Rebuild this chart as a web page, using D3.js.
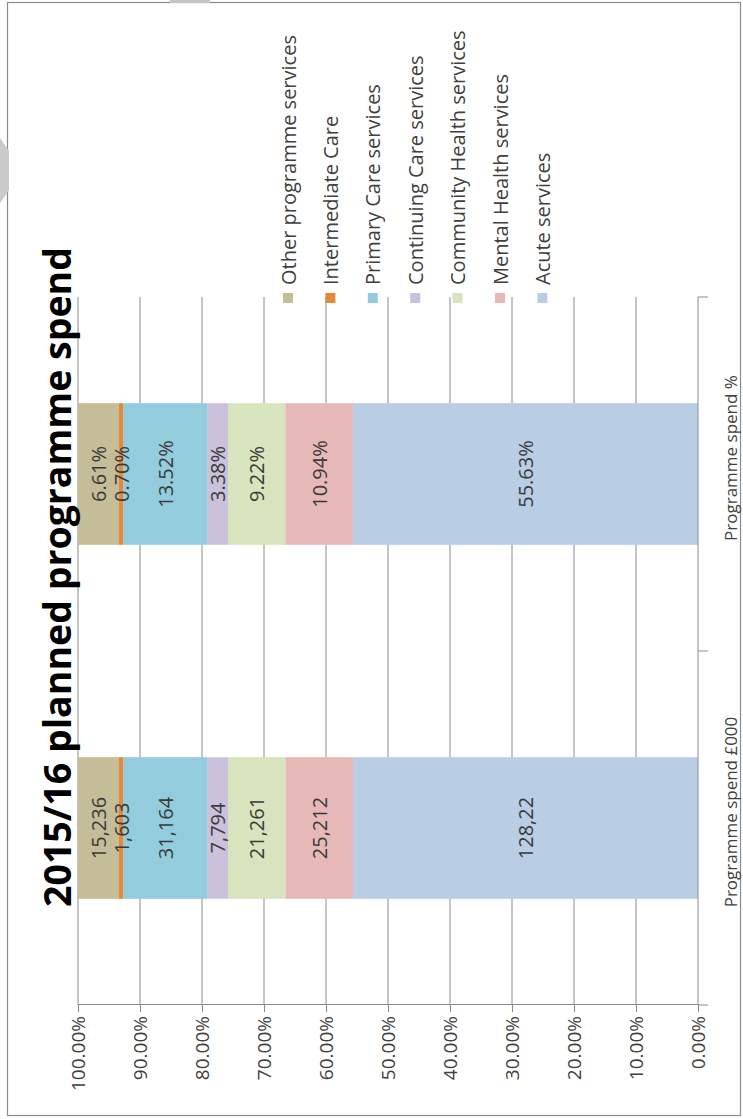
<!DOCTYPE html>
<html>
<head>
<meta charset="utf-8">
<script src="https://cdn.jsdelivr.net/npm/d3@7"></script>
<style>
  html, body { margin: 0; padding: 0; background: #ffffff; }
  svg { display: block; }
  text { font-family: "Open Sans", "Liberation Sans", sans-serif; }
</style>
</head>
<body>
<svg id="chart" width="743" height="1119"></svg>
<script>
// ---------------- data ----------------
const title = "2015/16 planned programme spend";
const categories = ["Programme spend £000", "Programme spend %"];
const seriesNames = [
  "Acute services",
  "Mental Health services",
  "Community Health services",
  "Continuing Care services",
  "Primary Care services",
  "Intermediate Care",
  "Other programme services"
];
const seriesColors = ["#b9cde5", "#e6b9b8", "#d7e4bd", "#ccc1da", "#93cddd", "#e0893f", "#c4bd97"];
const spend000 = [128222, 25212, 21261, 7794, 31164, 1603, 15236];
const spend000Labels = ["128,22", "25,212", "21,261", "7,794", "31,164", "1,603", "15,236"];
const spendPct = [55.63, 10.94, 9.22, 3.38, 13.52, 0.70, 6.61];
const valueTicks = [0, 0.1, 0.2, 0.3, 0.4, 0.5, 0.6, 0.7, 0.8, 0.9, 1.0];

// ---------------- setup ----------------
const W = 743, H = 1119;
const svg = d3.select("#chart");

// page frame + decorations (image coordinates)
svg.append("rect").attr("x", 7.5).attr("y", 2.5).attr("width", 733).attr("height", 1113)
  .attr("fill", "#ffffff").attr("stroke", "#8c8c8c").attr("stroke-width", 1.2);
svg.append("rect").attr("x", 170).attr("y", 0).attr("width", 40).attr("height", 3).attr("fill", "#c4c4c4");
svg.append("polygon").attr("points", "0,138 9,151 9,190 0,203").attr("fill", "#cacaca");

// chart is drawn in an upright frame and rotated -90deg
const g = svg.append("g").attr("transform", `translate(0,${H}) rotate(-90)`);

const rows = categories.map((c, ci) => {
  const r = { category: c };
  seriesNames.forEach((s, si) => { r[s] = ci === 0 ? spend000[si] : spendPct[si]; });
  return r;
});
const labelFor = (ci, si) => ci === 0 ? spend000Labels[si] : d3.format(".2f")(spendPct[si]) + "%";

const stack = d3.stack().keys(seriesNames).offset(d3.stackOffsetExpand);
const stacked = stack(rows);

const x = d3.scaleBand().domain(categories).range([114, 822]).paddingInner(0.6).paddingOuter(0.3);
const y = d3.scaleLinear().domain([0, 1]).range([698, 78]);

// gridlines
g.append("g").selectAll("line").data(valueTicks.filter(t => t > 0)).join("line")
  .attr("x1", 114).attr("x2", 822)
  .attr("y1", d => y(d)).attr("y2", d => y(d))
  .attr("stroke", "#8a8a8a").attr("stroke-width", 1);

// bars
const layers = g.append("g").selectAll("g").data(stacked).join("g")
  .attr("fill", (d, i) => seriesColors[i]);
layers.selectAll("rect").data(d => d).join("rect")
  .attr("x", d => x(d.data.category))
  .attr("width", x.bandwidth())
  .attr("y", d => y(d[1]))
  .attr("height", d => y(d[0]) - y(d[1]));

// bar labels
stacked.forEach((layer, si) => {
  g.append("g").selectAll("text").data(layer).join("text")
    .attr("x", d => x(d.data.category) + x.bandwidth() / 2)
    .attr("y", d => (y(d[0]) + y(d[1])) / 2)
    .attr("text-anchor", "middle")
    .attr("dominant-baseline", "central")
    .attr("font-size", 20)
    .attr("fill", "#3a3a3a")
    .text((d, ci) => labelFor(ci, si));
});

// value axis (left in upright frame)
const yAxis = d3.axisLeft(y).tickValues(valueTicks).tickFormat(d3.format(".2%")).tickSizeOuter(0).tickSize(7).tickPadding(4);
const ya = g.append("g").attr("transform", "translate(114,0)").call(yAxis);
ya.select(".domain").attr("stroke", "#8a8a8a");
ya.selectAll(".tick line").attr("stroke", "#8a8a8a");
ya.selectAll(".tick text").attr("font-size", 19).attr("fill", "#404040")
  .attr("font-family", "'Open Sans', sans-serif");

// category axis (bottom in upright frame)
const xa = g.append("g").attr("transform", "translate(0,698)");
xa.append("line").attr("x1", 114).attr("x2", 822).attr("y1", 0).attr("y2", 0).attr("stroke", "#8a8a8a");
const bounds = [x.range()[0]].concat(categories.map(c => x(c) + x.bandwidth() / 2 + x.step() / 2));
xa.selectAll("line.tk").data(bounds).join("line").attr("class", "tk")
  .attr("x1", d => d).attr("x2", d => d).attr("y1", 0).attr("y2", 10).attr("stroke", "#8a8a8a");
xa.selectAll("text").data(categories).join("text")
  .attr("x", d => x(d) + x.bandwidth() / 2 + 16)
  .attr("y", 32)
  .attr("text-anchor", "middle")
  .attr("dominant-baseline", "central")
  .attr("font-size", 17)
  .attr("fill", "#404040")
  .text(d => d);

// title
g.append("text").attr("x", 542).attr("y", 71)
  .attr("text-anchor", "middle")
  .attr("font-size", 37.5).attr("font-weight", "bold").attr("fill", "#000")
  .text(title);

// legend (top of stack first)
const legendOrder = seriesNames.map((s, i) => i).reverse();
const lg = g.append("g").selectAll("g").data(legendOrder).join("g")
  .attr("transform", (d, k) => `translate(821,${288 + k * 42.4})`);
lg.append("rect").attr("x", -5).attr("y", -5).attr("width", 10).attr("height", 10)
  .attr("fill", d => seriesColors[d]);
lg.append("text").attr("x", 13).attr("y", 0)
  .attr("dominant-baseline", "central")
  .attr("font-size", 20).attr("fill", "#404040")
  .text(d => seriesNames[d]);
</script>
</body>
</html>
